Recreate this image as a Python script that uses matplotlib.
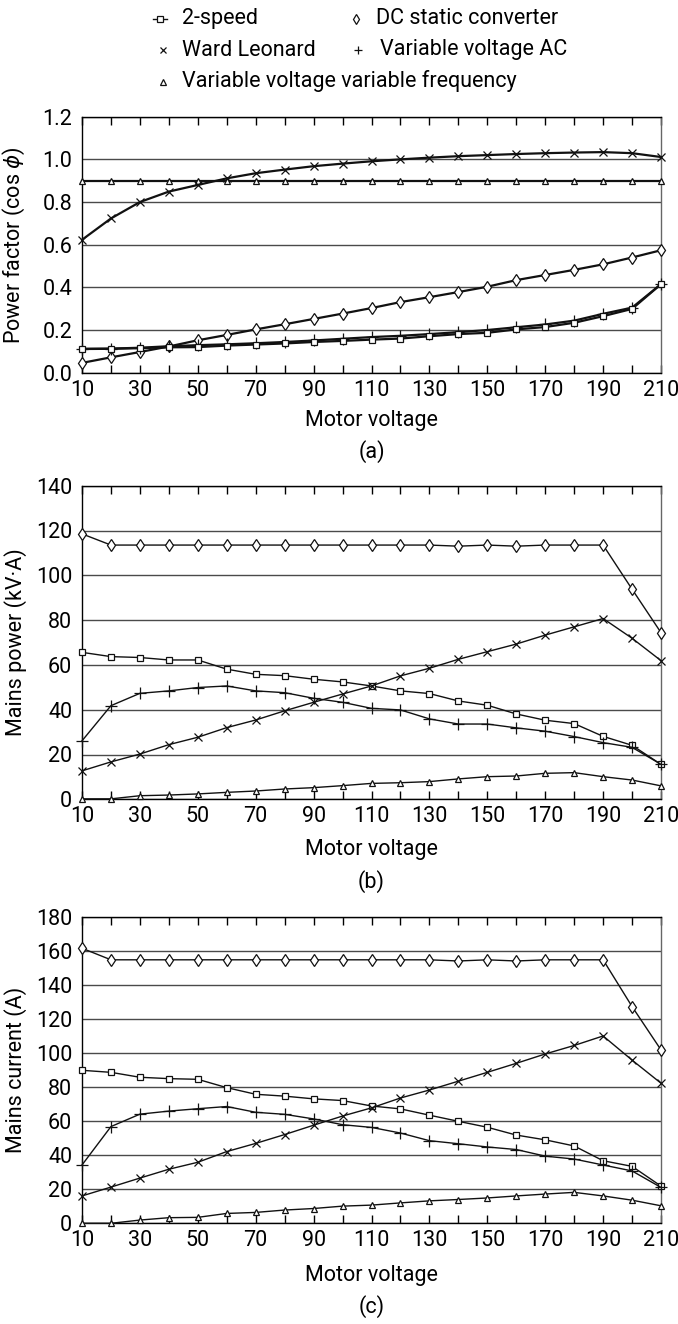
import matplotlib
matplotlib.use("Agg")
import matplotlib.pyplot as plt
from matplotlib.lines import Line2D
from matplotlib.ticker import MultipleLocator, FixedLocator, FormatStrFormatter

plt.rcParams["font.family"] = ["Roboto", "DejaVu Sans"]
plt.rcParams["mathtext.fontset"] = "dejavusans"

# Motor voltage steps
voltage = [10, 20, 30, 40, 50, 60, 70, 80, 90, 100, 110,
           120, 130, 140, 150, 160, 170, 180, 190, 200, 210]

# (a) Power factor (cos phi)
pf_two_speed = [0.111, 0.112, 0.115, 0.119, 0.120, 0.127, 0.132, 0.137, 0.144, 0.149, 0.155,
                0.160, 0.171, 0.181, 0.187, 0.203, 0.214, 0.234, 0.265, 0.299, 0.415]
pf_ward = [0.623, 0.723, 0.800, 0.849, 0.880, 0.911, 0.935, 0.952, 0.968, 0.980, 0.991,
           1.000, 1.008, 1.015, 1.020, 1.025, 1.029, 1.032, 1.034, 1.029, 1.011]
pf_dc = [0.046, 0.072, 0.097, 0.123, 0.152, 0.177, 0.203, 0.227, 0.252, 0.277, 0.303,
         0.331, 0.354, 0.378, 0.403, 0.434, 0.458, 0.482, 0.508, 0.540, 0.574]
pf_vvac = [0.112, 0.113, 0.117, 0.124, 0.129, 0.133, 0.138, 0.144, 0.151, 0.159, 0.167,
           0.173, 0.181, 0.190, 0.200, 0.213, 0.226, 0.244, 0.276, 0.305, 0.415]
pf_vvvf = [0.9, 0.9, 0.9, 0.9, 0.9, 0.9, 0.9, 0.9, 0.9, 0.9, 0.9,
           0.9, 0.9, 0.9, 0.9, 0.9, 0.9, 0.9, 0.9, 0.9, 0.9]

# (b) Mains power (kV.A)
kva_two_speed = [65.6, 63.7, 63.3, 62.2, 62.2, 58.1, 55.8, 55.2, 53.6, 52.4, 50.6,
                 48.4, 47.2, 43.9, 42.0, 38.1, 35.3, 33.8, 28.1, 24.1, 15.6]
kva_ward = [12.7, 16.7, 20.2, 24.4, 27.7, 32.0, 35.4, 39.5, 43.3, 47.0, 50.6,
            55.1, 58.5, 62.5, 65.9, 69.3, 73.3, 77.0, 80.7, 71.9, 61.9]
kva_dc = [118.5, 113.5, 113.5, 113.5, 113.5, 113.5, 113.5, 113.5, 113.5, 113.5, 113.5,
          113.5, 113.5, 113.0, 113.5, 113.0, 113.5, 113.5, 113.5, 93.8, 74.4]
kva_vvac = [26.1, 41.8, 47.3, 48.4, 49.9, 50.6, 48.4, 47.6, 45.1, 43.3, 40.6,
            39.9, 35.9, 33.6, 33.6, 31.9, 30.4, 28.0, 25.3, 23.2, 15.6]
kva_vvvf = [0.2, 0.2, 1.6, 1.9, 2.4, 3.1, 3.7, 4.6, 5.2, 6.1, 7.1,
            7.4, 7.9, 9.1, 10.1, 10.4, 11.6, 11.9, 10.1, 8.6, 6.0]

# (c) Mains current (A)
amp_two_speed = [90.0, 88.8, 85.9, 85.1, 84.7, 79.8, 75.9, 74.8, 73.2, 72.2, 69.0,
                 67.3, 63.6, 60.0, 56.5, 51.9, 49.1, 45.5, 36.8, 33.5, 21.9]
amp_ward = [16.1, 21.3, 26.6, 31.8, 35.9, 42.2, 47.0, 52.2, 57.7, 63.1, 67.9,
            73.7, 78.4, 83.6, 88.8, 94.1, 99.6, 104.6, 110.2, 96.0, 82.4]
amp_dc = [161.8, 155.0, 155.0, 155.0, 155.0, 155.0, 155.0, 155.0, 155.0, 155.0, 155.0,
          155.0, 155.0, 154.3, 155.0, 154.3, 155.0, 155.0, 155.0, 127.5, 102.0]
amp_vvac = [34.3, 56.9, 64.2, 66.0, 67.4, 68.7, 65.3, 64.1, 61.4, 58.0, 56.4,
            53.1, 48.6, 46.8, 44.9, 43.4, 39.5, 37.8, 34.3, 30.8, 21.1]
amp_vvvf = [0.0, 0.0, 1.9, 3.3, 3.5, 5.8, 6.4, 7.8, 8.7, 10.1, 10.7,
            12.0, 13.2, 14.0, 14.9, 16.1, 17.2, 18.2, 16.1, 13.6, 10.3]

W, H = 678, 1324
FS = 15.5
fig = plt.figure(figsize=(W / 100, H / 100), dpi=100)


def fx(x):
    return x / W


def fy(y):
    return 1 - y / H


styles = {
    "2-speed": dict(marker="s", ms=4.6, mfc="white"),
    "DC static converter": dict(marker="d", ms=6.5, mfc="white"),
    "Ward Leonard": dict(marker="x", ms=5.5, mfc="none"),
    "Variable voltage AC": dict(marker="+", ms=8, mfc="none"),
    "Variable voltage variable frequency": dict(marker="^", ms=4.8, mfc="white"),
}

LEFT, RIGHT = 82, 661


def make_axes(top, bottom, ymax, ystep, ylabel, fmt, xlabel_y):
    height = bottom - top
    ax = fig.add_axes([fx(LEFT), fy(bottom), fx(RIGHT) - fx(LEFT), fy(top) - fy(bottom)])
    ax.set_xlim(10, 210)
    ax.set_ylim(0, ymax)
    ax.xaxis.set_major_locator(FixedLocator(list(range(10, 211, 20))))
    ax.xaxis.set_minor_locator(FixedLocator(list(range(20, 201, 20))))
    ax.yaxis.set_major_locator(MultipleLocator(ystep))
    ax.yaxis.set_major_formatter(FormatStrFormatter(fmt))
    ax.tick_params(axis="x", which="both", direction="in", top=True, bottom=True,
                   length=6, width=1, labelsize=FS, pad=5)
    ax.tick_params(axis="y", length=0, labelsize=FS, pad=7)
    ax.yaxis.grid(True, color="#4a4a4a", lw=1.0)
    ax.set_axisbelow(True)
    for s in ("left", "bottom", "top"):
        ax.spines[s].set_color("black")
        ax.spines[s].set_linewidth(1.0)
    ax.spines["right"].set_color("#666666")
    ax.spines["right"].set_linewidth(1.0)
    ax.set_ylabel(ylabel, fontsize=FS)
    ax.yaxis.set_label_coords(-0.095, 0.5)
    ax.set_xlabel("Motor voltage", fontsize=FS)
    ax.xaxis.label.set_va("center")
    ax.xaxis.set_label_coords(0.5, (bottom - xlabel_y) / height)
    return ax


def draw(ax, data, lw):
    for name, values in data:
        st = styles[name]
        ax.plot(voltage, values, color="#111111", lw=lw, marker=st["marker"],
                ms=st["ms"], mfc=st["mfc"], mec="#111111", mew=0.9,
                clip_on=False, zorder=3)


ax_a = make_axes(116.7, 372.7, 1.2, 0.2, r"Power factor (cos $\phi$)", "%.1f", 421)
draw(ax_a, [("Variable voltage variable frequency", pf_vvvf), ("Ward Leonard", pf_ward),
            ("DC static converter", pf_dc), ("Variable voltage AC", pf_vvac),
            ("2-speed", pf_two_speed)], 1.6)
ax_b = make_axes(485.7, 799.3, 140, 20, "Mains power (kV\u00b7A)", "%d", 850)
draw(ax_b, [("DC static converter", kva_dc), ("2-speed", kva_two_speed),
            ("Variable voltage AC", kva_vvac), ("Ward Leonard", kva_ward),
            ("Variable voltage variable frequency", kva_vvvf)], 1.0)
ax_c = make_axes(917.3, 1223.3, 180, 20, "Mains current (A)", "%d", 1276)
draw(ax_c, [("DC static converter", amp_dc), ("2-speed", amp_two_speed),
            ("Variable voltage AC", amp_vvac), ("Ward Leonard", amp_ward),
            ("Variable voltage variable frequency", amp_vvvf)], 1.0)

# Panel letters under each x-axis label
for letter, y in (("(a)", 452), ("(b)", 882), ("(c)", 1307)):
    fig.text(fx(371.5), fy(y), letter, fontsize=FS, ha="center", va="center")

# Legend block at the top of the figure
legend_rows = [
    ("2-speed", 160, 182, 18.5, True),
    ("DC static converter", 356, 376, 18.5, False),
    ("Ward Leonard", 163, 182, 50, False),
    ("Variable voltage AC", 358, 380, 50, False),
    ("Variable voltage variable frequency", 163, 182, 81.5, False),
]
for name, mx, tx, y, with_line in legend_rows:
    st = styles[name]
    if with_line:
        fig.add_artist(Line2D([fx(mx - 7), fx(mx + 7)], [fy(y), fy(y)],
                              transform=fig.transFigure, color="#111111", lw=1.0))
    ms = st["ms"] * (0.75 if name in ("Ward Leonard", "Variable voltage AC") else 0.85)
    fig.add_artist(Line2D([fx(mx)], [fy(y)], transform=fig.transFigure, ls="none",
                          marker=st["marker"], ms=ms, mfc=st["mfc"],
                          mec="#111111", mew=0.9))
    fig.text(fx(tx), fy(y), name, fontsize=FS, ha="left", va="center")

fig.savefig("out.png", dpi=100)
